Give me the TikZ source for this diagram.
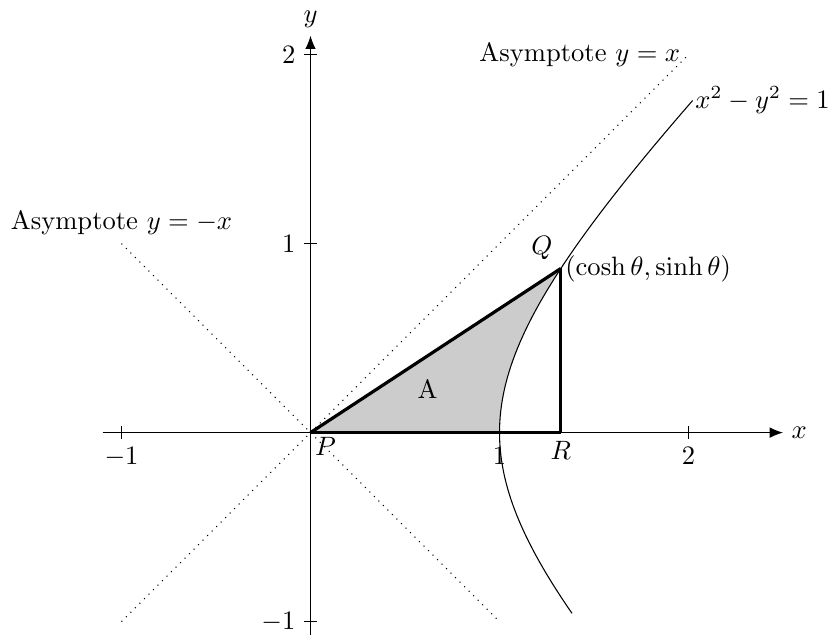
\documentclass[tikz,border=0pt]{standalone}
\usetikzlibrary{arrows.meta}
\begin{document}
\begin{tikzpicture}[x=2.5cm,y=2.5cm,
  axis/.style={-{Latex[length=5pt,width=4pt]}},
  tick/.style={thin},
  asym/.style={dotted},
  hyp/.style={thin},
  edge/.style={very thick},
  lbl/.style={inner sep=3pt}]
\useasboundingbox (-1.643,-1.070) rectangle (2.738,2.289);
% shaded area
\fill[gray!40] (0,0) -- ({cosh(0.7854)},{sinh(0.7854)})
  -- plot[domain=0.7854:0,samples=40,smooth] ({cosh(\x)},{sinh(\x)}) -- cycle;
% axes
\coordinate (xs) at (-1.1,0);
\coordinate (xe) at (2.5,0);
\coordinate (ys) at (0,-1.1);
\coordinate (ye) at (0,2.1);
\draw[axis] (xs) -- (xe) node[right,lbl] (xl) {$x$};
\draw[axis] (ys) -- (ye) node[above,lbl] (yl) {$y$};
% ticks
\foreach \t/\n in {-1/$-1$,1/$1$,2/$2$}{
  \draw[tick] (\t,0.035) -- (\t,-0.035) node[below,lbl] (xt\t) {\n};
  \draw[tick] (0.035,\t) -- (-0.035,\t) node[left,lbl] (yt\t) {\n};
}
% asymptotes
\coordinate (a1) at (-1,-1);
\coordinate (a2) at (2,2);
\coordinate (b1) at (-1,1);
\coordinate (b2) at (1,-1);
\draw[asym] (a1) -- (a2);
\draw[asym] (b1) -- (b2);
\node[left,lbl] (la) at (a2) {Asymptote $y=x$};
\node[above,lbl] (lb) at (b1) {Asymptote $y=-x$};
% hyperbola
\draw[hyp] plot[domain=-0.85:1.33,samples=80,smooth] ({cosh(\x)},{sinh(\x)});
\coordinate (H) at ({cosh(1.33)},{sinh(1.33)});
\node[right,inner sep=0.8pt] (hl) at (H) {$x^2-y^2=1$};
% triangle
\coordinate (P) at (0,0);
\coordinate (Q) at ({cosh(0.7854)},{sinh(0.7854)});
\coordinate (R) at ({cosh(0.7854)},0);
\draw[edge] (P) -- (Q);
\draw[edge] (Q) -- (R);
\draw[edge] (R) -- (P);
\node[below right,inner sep=1.5pt] (Pl) at (P) {$P$};
\node[above left,lbl] (Ql) at (Q) {$Q$};
\node[below,lbl] (Rl) at (R) {$R$};
\node[right,inner sep=1.5pt] (Qc) at (Q) {$(\cosh\theta,\sinh\theta)$};
\node (Al) at (0.62,0.23) {A};
\end{tikzpicture}
\end{document}
